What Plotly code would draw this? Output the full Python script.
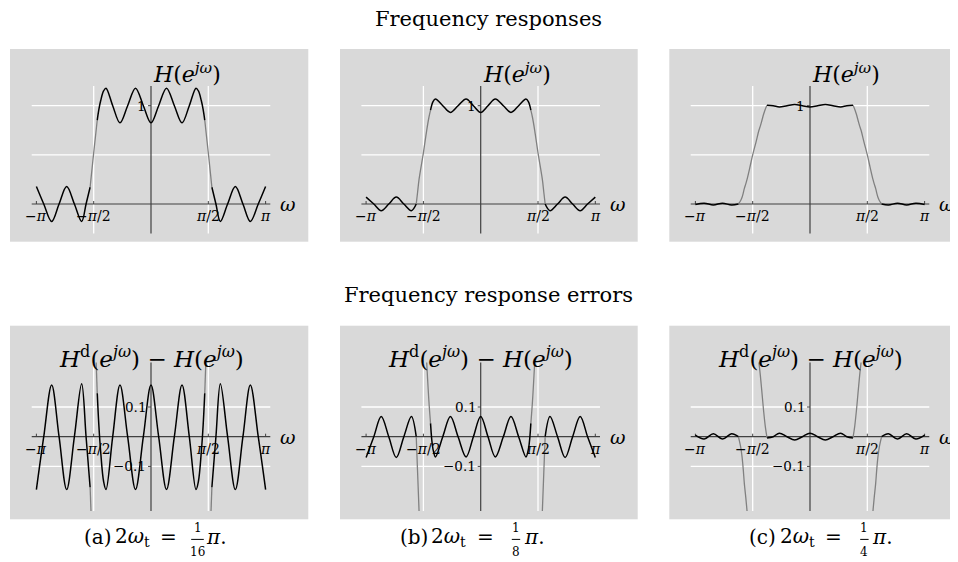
import math
import plotly.graph_objects as go

PI = math.pi

# ---------------- data (omega >= 0 halves; every curve is even) ----------------
# (a) 2 w_t = pi/16
a_pass_w = [0, 0.21, 0.425, 0.64, 0.85, 1.05, 1.233, 1.30, 1.38, 1.43, 1.473]
a_pass_H = [0.826, 1.0, 1.178, 1.0, 0.826, 1.0, 1.178, 1.15, 1.05, 0.96, 0.854]
a_trans_w = [1.473, 1.571, 1.669]
a_trans_H = [0.854, 0.52, 0.17]
a_stop_w = [1.669, 1.78, 1.901, 2.10, 2.312, 2.52, 2.723, 2.94, 3.1416]
a_stop_H = [0.17, 0.0, -0.178, 0.0, 0.178, 0.0, -0.178, 0.0, 0.178]
a_err_pass = [0.174, 0.0, -0.178, 0.0, 0.174, 0.0, -0.178, -0.15, -0.05, 0.04, 0.146]
a_err_stop = [-0.17, 0.0, 0.178, 0.0, -0.178, 0.0, 0.174, 0.0, -0.178]
a_err_up_w = [1.473, 1.503]
a_err_up = [0.146, 0.25]
a_err_lo_w = [1.669, 1.645]
a_err_lo = [-0.17, -0.25]

# (b) 2 w_t = pi/8
b_pass_w = [0, 0.20, 0.40, 0.62, 0.83, 1.04, 1.24, 1.31, 1.375]
b_pass_H = [0.932, 1.0, 1.068, 1.0, 0.932, 1.0, 1.068, 1.04, 0.955]
b_trans_w = [1.375, 1.42, 1.48, 1.571, 1.69, 1.73, 1.767]
b_trans_H = [0.955, 0.88, 0.75, 0.52, 0.25, 0.12, 0.0]
b_stop_w = [1.767, 1.90, 2.107, 2.314, 2.52, 2.727, 2.93, 3.1416]
b_stop_H = [0.0, -0.068, 0.0, 0.07, 0.0, -0.068, 0.0, 0.07]
b_err_pass = [0.068, 0.0, -0.068, 0.0, 0.068, 0.0, -0.068, -0.04, 0.045]
b_err_stop = [0.0, 0.068, 0.0, -0.07, 0.0, 0.068, 0.0, -0.07]
b_err_up_w = [1.375, 1.42, 1.48]
b_err_up = [0.045, 0.12, 0.25]
b_err_lo_w = [1.767, 1.73, 1.69]
b_err_lo = [0.0, -0.12, -0.25]

# (c) 2 w_t = pi/4
c_pass_w = [0, 0.21, 0.42, 0.63, 0.84, 1.01, 1.178]
c_pass_H = [0.988, 1.0, 1.011, 1.0, 0.988, 1.0, 1.004]
c_trans_w = [1.178, 1.226, 1.27, 1.317, 1.36, 1.40, 1.48, 1.571, 1.65, 1.726, 1.76, 1.799,
             1.83, 1.862, 1.90, 1.963]
c_trans_H = [1.004, 0.965, 0.915, 0.852, 0.795, 0.75, 0.63, 0.5, 0.37, 0.25, 0.205, 0.159,
             0.11, 0.068, 0.035, 0.0]
c_stop_w = [1.963, 2.15, 2.40, 2.65, 2.90, 3.1416]
c_stop_H = [0.0, -0.010, 0.008, -0.010, 0.008, -0.005]
c_err_pass = [0.012, 0.0, -0.011, 0.0, 0.012, 0.0, -0.004]
c_err_stop = [0.0, 0.010, -0.008, 0.010, -0.008, 0.005]
c_err_up_w = [1.178, 1.226, 1.27, 1.317, 1.36, 1.40]
c_err_up = [-0.004, 0.035, 0.085, 0.148, 0.205, 0.25]
c_err_lo_w = [1.963, 1.90, 1.862, 1.83, 1.799, 1.76, 1.726]
c_err_lo = [0.0, -0.035, -0.068, -0.11, -0.159, -0.205, -0.25]

x_ticks = [-PI, -PI / 2, PI / 2, PI]
x_tick_text = ["−<i>π</i>", "−<i>π</i>/2", "<i>π</i>/2", "<i>π</i>"]
top_grid = [0.5, 1.0]
top_ytick = [1.0]
top_ytick_text = ["1"]
err_grid = [-0.1, 0.1]
err_ytick = [0.1, -0.1]
err_ytick_text = ["0.1", "−0.1"]
captions = [("a", "16"), ("b", "8"), ("c", "4")]
titles = ["Frequency responses", "Frequency response errors"]

# ---------------- layout geometry (reference pixels) ----------------
OFF = 8                       # page body margin of the html page
W, HH = 958 - OFF, 562 - OFF   # figure size


def PX(x):
    return (x - OFF) / W


def PY(y):
    return 1 - (y - OFF) / HH


FONT = "DejaVu Serif"
col_box = [(10, 308.3), (340, 637.7), (669.3, 958)]
col_zero = [151, 480.7, 810]
row_box = [(49, 241.7), (325.7, 519.3)]
row_zero = [204, 436.7]
row_scale = [98.3, 297.0]
XS = 36.48  # px per rad

BG = "#d9d9d9"
AX = "#404040"
GRAY = "#808080"

fig = go.Figure()
layout = dict(width=W, height=HH, margin=dict(l=0, r=0, t=0, b=0), autosize=False,
              paper_bgcolor="white", plot_bgcolor=BG, showlegend=False)
annotations = []
shapes = []


def txt(x, y, s, size, xanchor="center", yanchor="middle", xref="paper", yref="paper", **kw):
    annotations.append(dict(x=x, y=y, xref=xref, yref=yref, text=s, showarrow=False,
                            xanchor=xanchor, yanchor=yanchor,
                            font=dict(family=FONT, size=size, color="black"), **kw))


def mirror_even(w, v):
    ww = [-x for x in reversed(w[1:])] + list(w)
    vv = list(reversed(v[1:])) + list(v)
    return ww, vv


def mirror_seg(w, v):
    return [-x for x in w] + [None] + list(w), list(v) + [None] + list(v)


panels = [
    (0, 0, a_pass_w, a_pass_H, [(a_trans_w, a_trans_H)], a_stop_w, a_stop_H),
    (0, 1, b_pass_w, b_pass_H, [(b_trans_w, b_trans_H)], b_stop_w, b_stop_H),
    (0, 2, c_pass_w, c_pass_H, [(c_trans_w, c_trans_H)], c_stop_w, c_stop_H),
    (1, 0, a_pass_w, a_err_pass, [(a_err_up_w, a_err_up), (a_err_lo_w, a_err_lo)], a_stop_w, a_err_stop),
    (1, 1, b_pass_w, b_err_pass, [(b_err_up_w, b_err_up), (b_err_lo_w, b_err_lo)], b_stop_w, b_err_stop),
    (1, 2, c_pass_w, c_err_pass, [(c_err_up_w, c_err_up), (c_err_lo_w, c_err_lo)], c_stop_w, c_err_stop),
]

for idx, (r, c, pw, pv, trans, sw, sv) in enumerate(panels):
    n = idx + 1
    xa = "x" if n == 1 else f"x{n}"
    ya = "y" if n == 1 else f"y{n}"
    x0, x1 = col_box[c]
    y0, y1 = row_box[r]
    z = col_zero[c]
    zy = row_zero[r]
    sc = row_scale[r]
    layout[f"xaxis{'' if n == 1 else n}"] = dict(
        domain=[PX(x0), min(1.0, PX(x1))], range=[(x0 - z) / XS, (min(x1, 958) - z) / XS],
        visible=False, fixedrange=True, anchor=ya)
    layout[f"yaxis{'' if n == 1 else n}"] = dict(
        domain=[PY(y1), PY(y0)], range=[(zy - y1) / sc, (zy - y0) / sc],
        visible=False, fixedrange=True, anchor=xa)

    if r == 0:
        ylo, yhi = -0.3, 1.2
        grid = top_grid
        yt, ytt = top_ytick, top_ytick_text
    else:
        ylo, yhi = -0.25, 0.25
        grid = err_grid
        yt, ytt = err_ytick, err_ytick_text
    xlo, xhi = -3.27, 3.27

    def line(xv, yv, color, width, shape="linear"):
        fig.add_trace(go.Scatter(x=xv, y=yv, mode="lines", xaxis=xa, yaxis=ya,
                                 line=dict(color=color, width=width, shape=shape),
                                 hoverinfo="skip"))

    gx, gy = [], []
    for g in grid:
        gx += [xlo, xhi, None]
        gy += [g, g, None]
    for t in [-PI / 2, PI / 2]:
        gx += [t, t, None]
        gy += [ylo, yhi, None]
    line(gx, gy, "white", 1.3)
    line([xlo, xhi, None, 0, 0], [0, 0, None, ylo, yhi], AX, 1.2)
    tk = 3.0 / XS
    tky = 3.0 / sc
    tx, ty = [], []
    for t in x_ticks:
        tx += [t, t, None]
        ty += [0, tky, None]
    for t in yt:
        tx += [-tk, 0, None]
        ty += [t, t, None]
    line(tx, ty, AX, 1.0)

    for tw, tv in trans:
        xx, yy = mirror_seg(tw, tv)
        line(xx, yy, GRAY, 1.3, "spline")
    xx, yy = mirror_even(pw, pv)
    line(xx, yy, "black", 1.5, "spline")
    line([-w for w in sw], sv, "black", 1.5, "spline")
    line(list(sw), sv, "black", 1.5, "spline")

    for t, s in zip(x_ticks, x_tick_text):
        txt(t, 0, s, 14, "center", "top", xa, ya, yshift=-2)
    for t, s in zip(yt, ytt):
        txt(0, t, s, 13.5, "right", "middle", xa, ya, xshift=-3)
    txt(3.49, 0, "<i>ω</i>", 19, "left", "middle", xa, ya)
    if r == 0:
        txt(0, 1.333, "<i>H</i>(<i>e</i><sup><i>jω</i></sup>)", 22, "left", "middle", xa, ya)
    else:
        txt(0, 0.269,
            "<i>H</i><sup>d</sup>(<i>e</i><sup><i>jω</i></sup>) − <i>H</i>(<i>e</i><sup><i>jω</i></sup>)",
            23, "center", "middle", xa, ya)

# section titles
for s, yp in zip(titles, [19, 295]):
    txt(PX(489), PY(yp), s, 21)

# captions: start x, fraction centre offset, pi offset
cap_geo = [(81.7, 115.8, 122.5), (398.3, 117.7, 123.4), (746.7, 117.7, 123.4)]
for (lab, den), (x0, fo, po) in zip(captions, cap_geo):
    yc = 537
    txt(PX(x0), PY(yc), f"({lab})", 20, "left")
    txt(PX(x0 + 31), PY(yc), "2<i>ω</i><sub>t</sub>", 20, "left")
    txt(PX(x0 + 87), PY(yc), "=", 20, "center")
    fx = x0 + fo
    txt(PX(fx), PY(528), "1", 12)
    txt(PX(fx), PY(552), den, 12)
    hw = 6.3 if len(den) > 1 else 4.2
    shapes.append(dict(type="line", xref="paper", yref="paper", x0=PX(fx - hw), x1=PX(fx + hw),
                       y0=PY(539.4), y1=PY(539.4), line=dict(color="black", width=1)))
    txt(PX(x0 + po), PY(yc), "<i>π</i>.", 20, "left")

layout["annotations"] = annotations
layout["shapes"] = shapes
fig.update_layout(**layout)
fig.write_html("out.html")
